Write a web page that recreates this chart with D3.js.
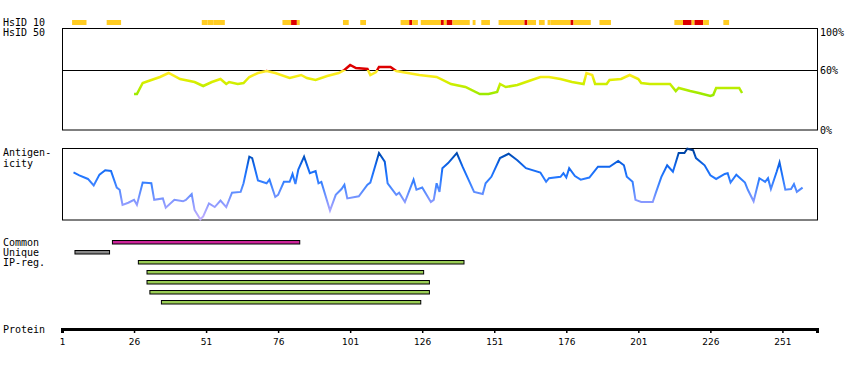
<!DOCTYPE html>
<html>
<head>
<meta charset="utf-8">
<script src="https://cdn.jsdelivr.net/npm/d3@7"></script>
<style>
body { margin: 0; background: #fff; }
text { font-family: "DejaVu Sans Mono", monospace; font-size: 10px; fill: #000; }
.tick-label { font-family: "DejaVu Sans", sans-serif; font-size: 9px; }
</style>
</head>
<body>
<svg id="viz" width="850" height="370"></svg>
<script>
var proteinLength = 263;
var tickValues = [1, 26, 51, 76, 101, 126, 151, 176, 201, 226, 251];

// HsID 10 strip: residue ranges and level (y = similar, r = identical)
var hsidStart = [5, 17, 50, 52, 54, 78, 81, 83, 99, 105, 119, 122, 123, 126, 133, 134, 135, 137, 144, 147, 153, 162, 163, 167, 170, 171, 178, 179, 188, 214, 217, 220, 221, 224, 231];
var hsidEnd   = [9, 21, 51, 53, 57, 80, 82, 83, 100, 106, 121, 122, 124, 132, 133, 134, 136, 142, 144, 149, 161, 162, 165, 168, 170, 177, 178, 184, 191, 216, 219, 220, 223, 225, 232];
var hsidLevel = ["y","y","y","y","y","y","r","y","y","y","y","r","y","y","r","y","r","y","y","y","y","r","y","y","y","y","r","y","y","y","r","y","r","y","y"];

// HsID 50 identity line (%)
var identRes = [26, 27, 29, 31, 35, 38, 42, 47, 50, 53, 56, 58, 59, 62, 64, 66, 69, 72, 75, 80, 84, 86, 89, 93, 97, 99, 101, 103, 107, 108, 110, 111, 115, 117, 121, 125, 131, 136, 141, 146, 149, 152, 153, 155, 159, 163, 167, 170, 174, 178, 182, 183, 185, 186, 190, 191, 195, 198, 201, 202, 205, 212, 214, 215, 219, 222, 226, 227, 228, 236, 237];
var identVal = [36, 36, 47, 49, 53, 57, 51, 48, 44, 48, 51, 46, 48, 46, 47, 53, 57, 59, 57, 52, 55, 52, 50, 54, 57, 60, 65, 62, 61, 55, 58, 63, 63, 59, 57, 55, 53, 46, 43, 36, 36, 38, 46, 43, 45, 49, 53, 53, 51, 48, 46, 57, 55, 46, 46, 50, 51, 55, 51, 47, 46, 46, 39, 42, 39, 37, 34, 35, 42, 42, 37];

// Antigenicity score (0-100)
var antiRes = [5, 7, 10, 12, 14, 16, 18, 20, 21, 22, 24, 26, 27, 29, 32, 33, 36, 37, 40, 43, 44, 46, 47, 49, 50, 52, 54, 56, 58, 60, 63, 64, 66, 67, 69, 72, 73, 75, 76, 78, 80, 81, 82, 83, 85, 87, 89, 90, 91, 94, 96, 98, 99, 100, 104, 107, 108, 111, 113, 114, 117, 118, 120, 123, 124, 126, 129, 130, 131, 132, 133, 135, 138, 140, 144, 147, 148, 150, 153, 156, 159, 162, 167, 169, 170, 174, 175, 176, 177, 179, 181, 184, 187, 191, 194, 196, 197, 199, 200, 202, 206, 207, 209, 211, 213, 215, 217, 218, 220, 221, 224, 226, 228, 231, 232, 233, 235, 238, 239, 241, 243, 245, 246, 247, 249, 250, 252, 254, 255, 256, 258];
var antiVal = [66, 62, 57, 48, 63, 69, 68, 45, 42, 21, 24, 28, 21, 52, 51, 28, 30, 17, 28, 26, 28, 36, 14, 1, 5, 23, 18, 27, 18, 38, 39, 51, 88, 86, 55, 51, 56, 32, 35, 53, 53, 64, 50, 70, 88, 65, 68, 51, 53, 13, 35, 43, 49, 30, 33, 49, 52, 93, 81, 51, 35, 38, 25, 56, 42, 45, 25, 28, 51, 39, 72, 79, 93, 74, 39, 36, 51, 60, 86, 92, 83, 72, 66, 53, 58, 60, 65, 59, 72, 61, 56, 59, 74, 74, 82, 76, 60, 53, 28, 25, 25, 37, 60, 76, 67, 93, 93, 99, 97, 86, 76, 62, 57, 64, 65, 52, 63, 52, 42, 26, 58, 53, 58, 43, 67, 80, 42, 43, 50, 39, 45];

// feature bars
var barLabels = ["Common", "Unique", "IP-reg.", "", "", "", ""];
var barStart  = [19, 6, 28, 31, 31, 32, 36];
var barEnd    = [83, 17, 140, 126, 128, 128, 125];
var barKind   = ["common", "unique", "ipreg", "ipreg", "ipreg", "ipreg", "ipreg"];

var barColor = { common: "#cc2299", unique: "#888888", ipreg: "#99cc55" };

var svg = d3.select("#viz");
var x = d3.scaleLinear().domain([1, proteinLength]).range([62, 817]);

//------------------------------------------------------
// top strip
//------------------------------------------------------
svg.append("text").attr("x", 3).attr("y", 26).text("HsID 10");
svg.append("text").attr("x", 3).attr("y", 36).text("HsID 50");

svg.append("g").selectAll("rect")
  .data(hsidStart)
  .enter().append("rect")
  .attr("x", function(d) { return x(d - 0.5); })
  .attr("width", function(d, i) { return x(hsidEnd[i] + 0.5) - x(d - 0.5); })
  .attr("y", 20)
  .attr("height", 5)
  .attr("fill", function(d, i) { return hsidLevel[i] == "r" ? "#dd0000" : "#ffcc22"; });

//------------------------------------------------------
// identity panel
//------------------------------------------------------
var yId = d3.scaleLinear().domain([0, 100]).range([130, 30]);

var defs = svg.append("defs");
var gId = defs.append("linearGradient").attr("id", "gradId")
  .attr("gradientUnits", "userSpaceOnUse")
  .attr("x1", 0).attr("x2", 0).attr("y1", yId(0)).attr("y2", yId(100));
[[0, "#77dd00"], [0.35, "#99ea00"], [0.45, "#c8ee00"], [0.5, "#e0ee00"], [0.54, "#f8ee18"], [0.599, "#ffe830"], [0.6, "#dd0000"], [1, "#dd0000"]]
  .forEach(function(s) { gId.append("stop").attr("offset", s[0]).attr("stop-color", s[1]); });

svg.append("rect").attr("x", 62.5).attr("y", 28.5).attr("width", 755).attr("height", 101.5)
  .attr("fill", "none").attr("stroke", "#000").attr("stroke-width", 1);
svg.append("line").attr("x1", 62).attr("x2", 817).attr("y1", yId(60) + 0.5).attr("y2", yId(60) + 0.5)
  .attr("stroke", "#000").attr("stroke-width", 1);

svg.append("path")
  .datum(identRes)
  .attr("fill", "none")
  .attr("stroke", "url(#gradId)")
  .attr("stroke-width", 2.5)
  .attr("d", d3.line().x(function(d) { return x(d); }).y(function(d, i) { return yId(identVal[i]); }));

svg.append("text").attr("x", 820).attr("y", 36).text("100%");
svg.append("text").attr("x", 820).attr("y", 74).text("60%");
svg.append("text").attr("x", 820).attr("y", 134).text("0%");

//------------------------------------------------------
// antigenicity panel
//------------------------------------------------------
var yAg = d3.scaleLinear().domain([0, 100]).range([220, 148]);

var gAg = defs.append("linearGradient").attr("id", "gradAg")
  .attr("gradientUnits", "userSpaceOnUse")
  .attr("x1", 0).attr("x2", 0).attr("y1", yAg(0)).attr("y2", yAg(100));
[[0, "#c4b0ff"], [0.25, "#8899ff"], [0.45, "#4a88ff"], [0.6, "#2277ff"], [0.75, "#1166ee"], [0.9, "#004eba"], [1, "#00388a"]]
  .forEach(function(s) { gAg.append("stop").attr("offset", s[0]).attr("stop-color", s[1]); });

svg.append("text").attr("x", 3).attr("y", 156).text("Antigen-");
svg.append("text").attr("x", 3).attr("y", 167).text("icity");

svg.append("rect").attr("x", 62.5).attr("y", 148.5).attr("width", 755).attr("height", 71.5)
  .attr("fill", "none").attr("stroke", "#000").attr("stroke-width", 1);

svg.append("path")
  .datum(antiRes)
  .attr("fill", "none")
  .attr("stroke", "url(#gradAg)")
  .attr("stroke-width", 2)
  .attr("d", d3.line().x(function(d) { return x(d); }).y(function(d, i) { return yAg(antiVal[i]); }));

//------------------------------------------------------
// feature bars
//------------------------------------------------------
var bars = svg.append("g").selectAll("g")
  .data(barStart)
  .enter().append("g");

bars.append("rect")
  .attr("x", function(d) { return x(d - 0.5); })
  .attr("width", function(d, i) { return x(barEnd[i] + 0.5) - x(d - 0.5); })
  .attr("y", function(d, i) { return 240.5 + i * 10; })
  .attr("height", 3.5)
  .attr("fill", function(d, i) { return barColor[barKind[i]]; })
  .attr("stroke", "#000")
  .attr("stroke-width", 1);

bars.append("text")
  .attr("x", 3)
  .attr("y", function(d, i) { return 246 + i * 10; })
  .text(function(d, i) { return barLabels[i]; });

//------------------------------------------------------
// protein axis
//------------------------------------------------------
svg.append("text").attr("x", 3).attr("y", 333).text("Protein");

var axis = svg.append("g").attr("transform", "translate(0,329)")
  .call(d3.axisBottom(x).tickValues(tickValues).tickSize(4).tickSizeOuter(4));
axis.select(".domain").attr("stroke-width", 3);
axis.selectAll(".tick line").attr("stroke-width", 1.5);
axis.selectAll(".tick text")
  .attr("class", "tick-label")
  .attr("dy", null)
  .attr("y", 16)
  .attr("fill", "#000");
</script>
</body>
</html>
